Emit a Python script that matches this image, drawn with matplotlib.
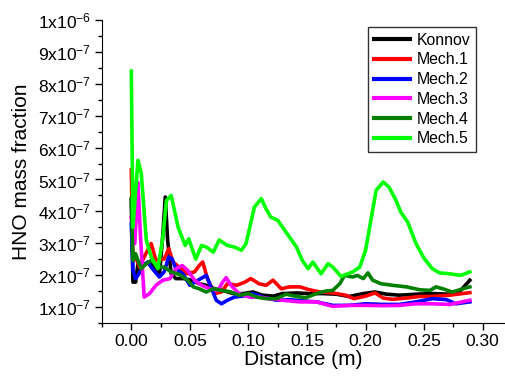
"""
HNO mass fraction along the distance for the six mechanisms.
"""

import numpy as np
import matplotlib
matplotlib.use("Agg")
import matplotlib.pyplot as plt
from matplotlib.ticker import MultipleLocator, FuncFormatter

plt.rcParams['font.family'] = ['Liberation Sans', 'DejaVu Sans']
plt.rcParams['mathtext.fontset'] = 'custom'
plt.rcParams['mathtext.rm'] = 'Liberation Sans'
plt.rcParams['mathtext.it'] = 'Liberation Sans'

# values, y in units of 1e-7
konnov_x = [0, 0.0014, 0.0037, 0.0057, 0.010, 0.0156, 0.020, 0.024, 0.027, 0.029,
            0.031, 0.034, 0.038, 0.045, 0.051, 0.058, 0.064, 0.071, 0.078, 0.087,
            0.095, 0.104, 0.112, 0.121, 0.129, 0.141, 0.152, 0.163, 0.175, 0.186,
            0.198, 0.208, 0.218, 0.229, 0.243, 0.257, 0.272, 0.280, 0.289]
konnov_y = [4.35, 1.78, 1.78, 2.36, 2.30, 2.41, 2.25, 1.99, 3.30, 4.45,
            3.09, 2.04, 1.89, 1.89, 1.84, 1.73, 1.68, 1.57, 1.52, 1.42,
            1.42, 1.47, 1.37, 1.34, 1.42, 1.44, 1.42, 1.42, 1.40, 1.33,
            1.42, 1.47, 1.40, 1.37, 1.40, 1.42, 1.40, 1.47, 1.84]

mech1_x = [0, 0.0014, 0.0037, 0.007, 0.011, 0.017, 0.021, 0.0256, 0.028, 0.032,
           0.0355, 0.041, 0.047, 0.054, 0.058, 0.061, 0.065, 0.071, 0.077, 0.082,
           0.090, 0.097, 0.102, 0.109, 0.115, 0.121, 0.128, 0.135, 0.144, 0.152,
           0.161, 0.172, 0.183, 0.190, 0.200, 0.208, 0.215, 0.223, 0.235, 0.246,
           0.257, 0.272, 0.289]
mech1_y = [5.30, 2.46, 2.57, 2.25, 2.57, 2.99, 2.46, 2.50, 2.50, 2.83,
           2.41, 2.25, 2.04, 2.10, 2.30, 2.41, 1.89, 1.42, 1.47, 1.73,
           1.68, 1.78, 1.89, 1.73, 1.68, 1.84, 1.57, 1.63, 1.63, 1.54,
           1.47, 1.44, 1.37, 1.26, 1.34, 1.44, 1.28, 1.24, 1.28, 1.33,
           1.33, 1.37, 1.45]

mech2_x = [0, 0.0014, 0.0037, 0.0065, 0.010, 0.014, 0.018, 0.024, 0.028, 0.032,
           0.035, 0.038, 0.044, 0.050, 0.057, 0.064, 0.068, 0.0725, 0.077, 0.082,
           0.088, 0.095, 0.104, 0.112, 0.124, 0.135, 0.146, 0.158, 0.172, 0.186,
           0.200, 0.215, 0.229, 0.243, 0.257, 0.269, 0.277, 0.289]
mech2_y = [3.60, 2.15, 1.89, 2.04, 2.30, 2.41, 2.20, 1.94, 2.10, 2.57,
           2.50, 2.20, 2.04, 1.68, 1.84, 1.99, 1.63, 1.21, 1.10, 1.21,
           1.31, 1.34, 1.42, 1.31, 1.21, 1.23, 1.19, 1.16, 1.05, 1.05,
           1.10, 1.08, 1.08, 1.16, 1.26, 1.23, 1.10, 1.16]

mech3_x = [0, 0.003, 0.0057, 0.0077, 0.011, 0.0156, 0.021, 0.027, 0.033, 0.038,
           0.0435, 0.048, 0.054, 0.060, 0.067, 0.074, 0.078, 0.081, 0.085, 0.092,
           0.101, 0.109, 0.118, 0.129, 0.144, 0.158, 0.172, 0.186, 0.200, 0.215,
           0.229, 0.243, 0.257, 0.272, 0.289]
mech3_y = [3.80, 2.99, 4.90, 3.30, 1.31, 1.42, 1.68, 1.84, 1.89, 2.20,
           2.30, 2.15, 1.84, 1.68, 1.57, 1.52, 1.78, 1.92, 1.68, 1.42,
           1.31, 1.31, 1.26, 1.21, 1.16, 1.16, 1.02, 1.05, 1.05, 1.04,
           1.05, 1.10, 1.10, 1.08, 1.21]

mech4_x = [0, 0.0014, 0.0037, 0.0057, 0.0085, 0.0128, 0.017, 0.0227, 0.028, 0.034,
           0.041, 0.048, 0.053, 0.058, 0.064, 0.070, 0.077, 0.085, 0.092, 0.100,
           0.107, 0.115, 0.124, 0.132, 0.141, 0.149, 0.158, 0.166, 0.172, 0.178,
           0.182, 0.189, 0.193, 0.198, 0.202, 0.206, 0.213, 0.223, 0.235, 0.246,
           0.255, 0.260, 0.266, 0.274, 0.283, 0.289]
mech4_y = [4.40, 2.46, 2.67, 2.46, 2.20, 2.36, 2.46, 2.25, 2.25, 2.10,
           2.02, 1.84, 1.63, 1.57, 1.47, 1.57, 1.52, 1.47, 1.37, 1.42,
           1.31, 1.26, 1.26, 1.40, 1.33, 1.29, 1.42, 1.50, 1.52, 1.73,
           1.99, 1.94, 1.99, 1.89, 2.07, 1.84, 1.73, 1.68, 1.63, 1.54,
           1.52, 1.63, 1.57, 1.47, 1.57, 1.63]

mech5_x = [0, 0.0014, 0.0057, 0.0085, 0.0128, 0.017, 0.0227, 0.027, 0.030, 0.034,
           0.040, 0.046, 0.049, 0.055, 0.060, 0.064, 0.070, 0.075, 0.082, 0.088,
           0.094, 0.098, 0.105, 0.111, 0.115, 0.119, 0.125, 0.132, 0.141, 0.146,
           0.151, 0.155, 0.162, 0.168, 0.172, 0.179, 0.189, 0.195, 0.200, 0.205,
           0.209, 0.215, 0.220, 0.226, 0.230, 0.236, 0.243, 0.250, 0.257, 0.263,
           0.272, 0.281, 0.289]
mech5_y = [8.40, 3.50, 5.60, 5.20, 3.10, 2.57, 2.20, 3.20, 4.34, 4.50,
           3.50, 2.93, 3.14, 2.50, 2.93, 2.88, 2.72, 3.10, 2.93, 2.88,
           2.78, 2.99, 4.13, 4.40, 4.08, 3.82, 3.72, 3.35, 2.88, 2.46,
           2.20, 2.41, 2.04, 2.36, 2.25, 1.96, 2.10, 2.25, 2.78, 3.82,
           4.66, 4.92, 4.76, 4.34, 3.98, 3.66, 2.99, 2.52, 2.20, 2.07,
           2.04, 1.99, 2.10]

series = [
    ("Konnov", konnov_x, konnov_y, "black"),
    ("Mech.1", mech1_x, mech1_y, "red"),
    ("Mech.2", mech2_x, mech2_y, "blue"),
    ("Mech.3", mech3_x, mech3_y, "magenta"),
    ("Mech.4", mech4_x, mech4_y, "green"),
    ("Mech.5", mech5_x, mech5_y, "lime"),
]


def sci_label(value, pos):
    # tick labels like 1x10^-7
    if value <= 0:
        return ""
    exp = int(np.floor(np.log10(value) + 1e-9))
    mant = value / 10**exp
    return r"$%d\mathrm{x}10^{%d}$" % (round(mant), exp)


fig = plt.figure(figsize=(5.05, 3.79), dpi=100)
ax = fig.add_axes([0.202, 0.148, 0.798, 0.799])

for name, xs, ys, color in series:
    ax.plot(xs, np.array(ys) * 1e-7, color=color, lw=2.6, label=name)

ax.set_xlim(-0.025, 0.319)
ax.set_ylim(0.5e-7, 1e-6)
ax.xaxis.set_major_locator(MultipleLocator(0.05))
ax.xaxis.set_minor_locator(MultipleLocator(0.025))
ax.yaxis.set_major_locator(MultipleLocator(1e-7))
ax.yaxis.set_minor_locator(MultipleLocator(0.5e-7))
ax.xaxis.set_major_formatter(FuncFormatter(lambda v, p: f"{v:.2f}"))
ax.yaxis.set_major_formatter(FuncFormatter(sci_label))
ax.tick_params(which='major', direction='out', length=5, width=1, labelsize=12.5, pad=3)
ax.tick_params(which='minor', direction='out', length=3, width=1)
ax.spines['top'].set_visible(False)
ax.spines['right'].set_visible(False)

ax.set_xlabel("Distance (m)", fontsize=15, labelpad=1)
ax.set_ylabel("HNO mass fraction", fontsize=15, labelpad=5)

leg = ax.legend(loc='upper right', bbox_to_anchor=(0.928, 0.977), fontsize=11.4,
                frameon=True, fancybox=False, handlelength=2.3,
                borderpad=0.35, labelspacing=0.3, handletextpad=0.4,
                borderaxespad=0)
leg.get_frame().set_edgecolor('black')
leg.get_frame().set_linewidth(1)
for line in leg.get_lines():
    line.set_linewidth(3)

fig.savefig("out.png", dpi=100)
